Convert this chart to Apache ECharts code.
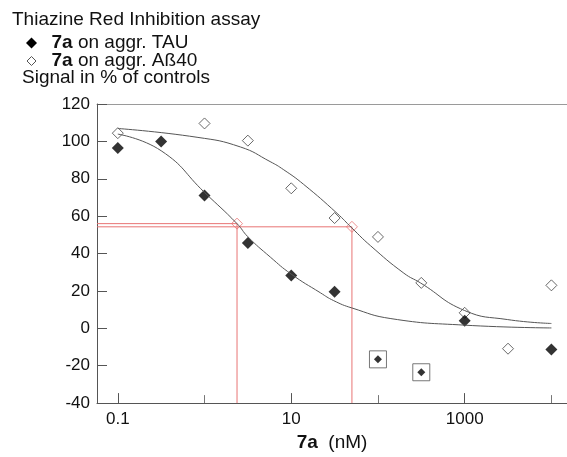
<!DOCTYPE html>
<html><head><meta charset="utf-8">
<script src="https://cdn.jsdelivr.net/npm/echarts@6/dist/echarts.min.js"></script>
<style>html,body{margin:0;padding:0;background:#fff}#c{width:567px;height:457px}</style>
</head><body><div id="c"></div>
<script>
// ---- data (concentration in nM, signal in % of controls) ----
const tauConc = [0.1, 0.316, 1, 3.16, 10, 31.6, 1000, 10000];
const tauVal = [96.5, 100, 71, 45.6, 28.2, 19.6, 4, -11.3];
const tauExclConc = [100, 316];
const tauExclVal = [-16.6, -23.5];
const abConc = [0.1, 1, 3.16, 10, 31.6, 100, 316, 1000, 3162, 10000];
const abVal = [104.4, 109.6, 100.4, 74.9, 59, 48.9, 24.3, 8.3, -10.9, 23];
const ic50Conc = [2.37, 50.1];
const ic50Val = [56, 54.3];
const fitTauConc = [0.1, 0.316, 1, 2.37, 3.16, 5.74, 10, 21.7, 30.9, 50, 141, 1000, 10000];
const fitTauVal = [103.9, 95, 72.7, 56, 49, 38.1, 29, 19, 14.8, 10.9, 5.2, 1.7, 0.2];
const fitAbConc = [0.1, 0.82, 2.6, 5.7, 8.2, 13.9, 33.8, 50, 82, 199, 309, 1000, 3100, 10000];
const fitAbVal = [106.9, 102.2, 97, 89.2, 84.8, 77, 61.5, 53.7, 44.2, 29.5, 24.3, 9.5, 4.7, 2.6];
const xLabelConc = [0.1, 10, 1000];
const xLabelText = ['0.1', '10', '1000'];
const xMinorConc = [1, 100, 10000];
const yMin = -40, yMax = 120, yStep = 20;
const xMinLog = -1.24, xMaxLog = 4.18;

const L = Math.log10;
const pairs = (xs, ys) => xs.map((x, i) => [L(x), ys[i]]);
const FONT = 'Arial, "Liberation Sans", sans-serif';

const chart = echarts.init(document.getElementById('c'), null, {renderer: 'canvas'});
const redLines = ic50Conc.map((c, i) => ({
  type: 'line', silent: true, symbol: 'none', animation: false,
  lineStyle: {color: '#e87474', width: 1},
  data: [[xMinLog, ic50Val[i]], [L(c), ic50Val[i]], [L(c), yMin]]
}));
const txt = (x, y, text) => ({type: 'text', style: {x, y, text, fontSize: 19, fontFamily: FONT, fill: '#111', verticalAlign: 'middle',
  rich: {b: {fontWeight: 'bold', fontSize: 19, fontFamily: FONT, fill: '#111'}}}});

chart.setOption({
  animation: false,
  grid: {left: 97, top: 104, right: 0, bottom: 45, containLabel: false},
  xAxis: [
    {
      type: 'value', min: xMinLog, max: xMaxLog, position: 'bottom',
      splitLine: {show: false},
      axisLine: {show: true, onZero: false, lineStyle: {color: '#555', width: 1}},
      axisTick: {show: true, inside: true, length: 10, customValues: xLabelConc.map(L), lineStyle: {color: '#555'}},
      axisLabel: {
        customValues: xLabelConc.map(L), margin: 8, color: '#111', fontSize: 17, fontFamily: FONT,
        formatter: v => { const i = xLabelConc.findIndex(c => Math.abs(L(c) - v) < 1e-6); return i >= 0 ? xLabelText[i] : ''; }
      },
      name: '{b|7a}  (nM)', nameLocation: 'middle', nameGap: 25,
      nameTextStyle: {fontSize: 19, fontFamily: FONT, color: '#111', rich: {b: {fontWeight: 'bold', fontSize: 19, fontFamily: FONT, color: '#111'}}}
    },
    {
      type: 'value', min: xMinLog, max: xMaxLog, position: 'bottom',
      splitLine: {show: false}, axisLine: {show: false, onZero: false},
      axisTick: {show: true, inside: true, length: 8, customValues: xMinorConc.map(L), lineStyle: {color: '#777'}},
      axisLabel: {show: false}
    },
    {
      type: 'value', min: xMinLog, max: xMaxLog, position: 'top',
      splitLine: {show: false},
      axisLine: {show: true, onZero: false, lineStyle: {color: '#9a9a9a', width: 1}},
      axisTick: {show: false}, axisLabel: {show: false}
    }
  ],
  yAxis: {
    type: 'value', min: yMin, max: yMax, interval: yStep,
    splitLine: {show: false},
    axisLine: {show: true, onZero: false, lineStyle: {color: '#555', width: 1}},
    axisTick: {show: true, inside: true, length: 10, lineStyle: {color: '#555'}},
    axisLabel: {margin: 7, color: '#111', fontSize: 17, fontFamily: FONT}
  },
  graphic: [
    txt(12, 20, 'Thiazine Red Inhibition assay'),
    {type: 'polygon', shape: {points: [[31.5, 37.5], [37, 43], [31.5, 48.5], [26, 43]]}, style: {fill: '#000'}},
    txt(51.5, 43, '{b|7a} on aggr. TAU'),
    {type: 'polygon', shape: {points: [[31.5, 56.5], [36, 61], [31.5, 65.5], [27, 61]]}, style: {fill: '#fff', stroke: '#555', lineWidth: 1}},
    txt(51.5, 60.5, '{b|7a} on aggr. Aß40'),
    txt(22, 78, 'Signal in % of controls')
  ],
  series: [
    ...redLines,
    {type: 'line', name: 'fitTau', data: pairs(fitTauConc, fitTauVal), showSymbol: false, symbol: 'none', smooth: 0.5,
      lineStyle: {color: '#555', width: 1}, silent: true},
    {type: 'line', name: 'fitAb', data: pairs(fitAbConc, fitAbVal), showSymbol: false, symbol: 'none', smooth: 0.5,
      lineStyle: {color: '#555', width: 1}, silent: true},
    {type: 'scatter', name: 'box', data: pairs(tauExclConc, tauExclVal), symbol: 'rect', symbolSize: 17,
      itemStyle: {color: 'rgba(0,0,0,0)', borderColor: '#555', borderWidth: 1}, silent: true},
    {type: 'scatter', name: 'tauExcl', data: pairs(tauExclConc, tauExclVal), symbol: 'diamond', symbolSize: 8,
      itemStyle: {color: '#000'}, silent: true},
    {type: 'scatter', name: '7a on aggr. Aß40', data: pairs(abConc, abVal), symbol: 'diamond', symbolSize: 11,
      itemStyle: {color: '#fff', borderColor: '#444', borderWidth: 1}, silent: true},
    {type: 'scatter', name: 'IC50', data: pairs(ic50Conc, ic50Val), symbol: 'diamond', symbolSize: 11,
      itemStyle: {color: 'rgba(255,255,255,0)', borderColor: '#e87474', borderWidth: 1}, silent: true},
    {type: 'scatter', name: '7a on aggr. TAU', data: pairs(tauConc, tauVal), symbol: 'diamond', symbolSize: 12,
      itemStyle: {color: '#000'}, silent: true}
  ]
});
</script>
</body></html>
